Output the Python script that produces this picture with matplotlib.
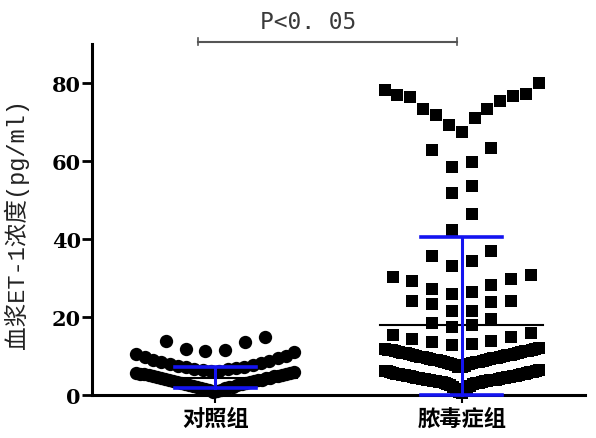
import matplotlib
matplotlib.use('Agg')
import matplotlib.pyplot as plt
import numpy as np

# values
groups = ['对照组', '脓毒症组']
control = [0.8, 1.0, 1.1, 1.3, 1.4, 1.6, 1.7, 1.9, 2.0, 2.1, 2.3, 2.4, 2.6, 2.7, 2.8,
           3.0, 3.1, 3.2, 3.3, 3.5, 3.6, 3.7, 3.8, 3.9, 4.0, 4.2, 4.3, 4.4, 4.5, 4.7,
           4.8, 4.9, 5.0, 5.1, 5.2, 5.3, 5.4, 5.5, 5.6, 5.8,
           6.1, 6.2, 6.4, 6.5, 6.7, 6.9, 7.0, 7.2, 7.4, 7.6, 7.9, 8.1, 8.4, 8.7, 9.0,
           9.3, 9.7, 10.0, 10.4, 10.9,
           11.2, 11.4, 11.7, 13.5, 13.7, 14.7]
sepsis = [0.5, 0.8, 1.1, 1.4, 1.7, 2.0, 2.3, 2.5, 2.7, 2.8, 2.9, 3.0, 3.1, 3.2, 3.3,
          3.3, 3.4, 3.5, 3.5, 3.6, 3.7, 3.7, 3.8, 3.9, 3.9, 4.0, 4.1, 4.1, 4.2, 4.3,
          4.3, 4.4, 4.5, 4.5, 4.6, 4.7, 4.7, 4.8, 4.9, 5.0, 5.0, 5.1, 5.2, 5.3, 5.3,
          5.4, 5.5, 5.6, 5.7, 5.8, 5.9, 6.0, 6.1, 6.2, 6.3,
          7.0, 7.2, 7.4, 7.6, 7.8, 8.0, 8.1, 8.2, 8.3, 8.4, 8.5, 8.6, 8.7, 8.8, 8.9,
          9.0, 9.1, 9.2, 9.3, 9.4, 9.5, 9.6, 9.7, 9.8, 9.9, 10.0, 10.1, 10.2, 10.3,
          10.4, 10.5, 10.6, 10.7, 10.8, 10.9, 11.0, 11.1, 11.2, 11.3, 11.4, 11.5,
          11.6, 11.7, 11.8, 12.0,
          12.8, 13.1, 13.5, 13.9, 14.3, 14.8, 15.3, 15.9,
          17.3, 17.9, 18.4, 19.4,
          21.5, 21.5, 23.3, 23.8, 24.1, 24.1,
          25.9, 26.4, 27.2, 28.2, 29.3, 29.8, 30.3, 30.6,
          32.9, 34.4, 35.7, 36.8,
          42.2, 46.3,
          51.8, 53.6,
          58.5, 59.8, 62.9, 63.4,
          67.3, 69.1, 71.0, 71.7, 73.3, 73.3, 75.3, 76.4, 76.7, 76.9, 77.2, 78.2, 80.0]
means = [4.3, 18.0]
sds = [2.7, 22.5]
y_ticks = [0, 20, 40, 60, 80]
p_label = 'P<0. 05'

control_bins = [6, 11]
sepsis_bins = [6.8, 12.5, 16, 20, 25, 31.5, 39, 50, 57, 66]


def swarm_x(values, center, bins, step, half_width):
    # prism-like column scatter: rows by value, lowest in the middle
    vals = np.asarray(values, dtype=float)
    xs = np.zeros_like(vals)
    idx = np.digitize(vals, bins)
    for b in np.unique(idx):
        members = np.where(idx == b)[0]
        members = members[np.argsort(vals[members], kind='stable')]
        n = len(members)
        st = step if n < 2 else min(step, 2 * half_width / (n - 1))
        slots = (np.arange(n) - (n - 1) / 2) * st
        order = sorted(range(n), key=lambda j: (round(abs(slots[j]), 9), slots[j]))
        for m, j in zip(members, order):
            xs[m] = center + slots[j]
    return xs


fig = plt.figure(figsize=(5.96, 4.39), dpi=100)
ax = fig.add_axes([0.1544, 0.0986, 0.827, 0.799])

x_c = swarm_x(control, 0, control_bins, 0.08, 0.32)
x_s = swarm_x(sepsis, 1, sepsis_bins, 0.08, 0.313)
ax.scatter(x_c, control, s=92, marker='o', color='black', linewidths=0, zorder=3, clip_on=False)
ax.scatter(x_s, sepsis, s=80, marker='s', color='black', linewidths=0, zorder=3, clip_on=False)

blue = '#1414f0'
for i in range(len(groups)):
    m, sd = means[i], sds[i]
    lo = max(0, m - sd)
    hi = m + sd
    ax.plot([i - 0.33, i + 0.33], [m, m], color='black', lw=1.5, zorder=4, clip_on=False)
    ax.plot([i, i], [lo, hi], color=blue, lw=2.2, zorder=5, clip_on=False)
    ax.plot([i - 0.165, i + 0.165], [hi, hi], color=blue, lw=2.6, zorder=5, clip_on=False)
    ax.plot([i - 0.165, i + 0.165], [lo, lo], color=blue, lw=2.6, zorder=5, clip_on=False)

# significance bracket
by = 90.6
ax.plot([-0.07, 0.98], [by, by], color='#555555', lw=1.5, clip_on=False)
ax.plot([-0.07, -0.07], [by - 0.8, by + 0.8], color='#555555', lw=1.2, clip_on=False)
ax.plot([0.98, 0.98], [by - 0.8, by + 0.8], color='#555555', lw=1.2, clip_on=False)
ax.text(0.378, 95.8, p_label, ha='center', va='center', fontsize=16.5,
        family=['DejaVu Sans Mono', 'DejaVu Sans'], color='#3a3a3a', clip_on=False)

ax.set_xlim(-0.5, 1.5)
ax.set_ylim(0, 90)
ax.set_yticks(y_ticks)
ax.set_xticks([0, 1])
ax.set_xticklabels(groups, family=['Noto Sans CJK SC', 'DejaVu Sans'], fontweight='bold', fontsize=16)
for lab in ax.get_yticklabels():
    lab.set_family('DejaVu Serif')
    lab.set_fontweight('bold')
    lab.set_fontsize(15)

ax.spines['top'].set_visible(False)
ax.spines['right'].set_visible(False)
ax.spines['left'].set_linewidth(2.2)
ax.spines['bottom'].set_linewidth(2.2)
ax.tick_params(axis='y', length=7, width=2, pad=1)
ax.tick_params(axis='x', length=6, width=1.5, pad=3)

ax.set_ylabel('血浆ET-1浓度(pg/ml)', family=['Liberation Mono', 'Noto Sans CJK SC'],
              fontsize=17, color='#222222')
ax.yaxis.set_label_coords(-0.128, 0.49)

fig.savefig('out.png', dpi=100)
